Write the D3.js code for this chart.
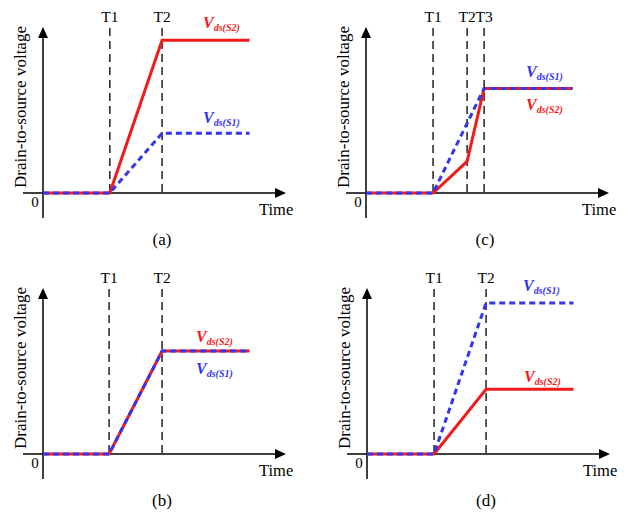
<!DOCTYPE html>
<html>
<head>
<meta charset="utf-8">
<script src="https://cdn.jsdelivr.net/npm/d3@7"></script>
<style>
  html, body { margin: 0; padding: 0; background: #fff; }
  svg { display: block; }
</style>
</head>
<body>
<svg id="chart" width="629" height="514" font-family="'Liberation Serif', 'Times New Roman', Times, serif"></svg>
<script>
// ---- data (time and voltage in arbitrary normalized units) ----
const panelNames = ["(a)", "(b)", "(c)", "(d)"];
const axisTitleY = "Drain-to-source voltage";
const axisTitleX = "Time";

// switching instants marked by dashed lines
const marksA = [{ name: "T1", t: 2.75 }, { name: "T2", t: 4.9 }];
const marksB = [{ name: "T1", t: 2.72 }, { name: "T2", t: 4.9 }];
const marksC = [{ name: "T1", t: 2.76 }, { name: "T2", t: 4.16 }, { name: "T3", t: 4.86 }];
const marksD = [{ name: "T1", t: 2.76 }, { name: "T2", t: 4.9 }];

// (a) S2 takes most of the voltage
const timeA = [0, 2.75, 4.9, 8.5];
const vS2_A = [0, 0, 9.2, 9.2];
const vS1_A = [0, 0, 3.6, 3.6];

// (b) balanced sharing
const timeB = [0, 2.72, 4.9, 8.5];
const vS2_B = [0, 0, 6.2, 6.2];
const vS1_B = [0, 0, 6.2, 6.2];

// (c) S2 rises slowly until T2, then catches up at T3
const timeC_S2 = [0, 2.76, 4.16, 4.86, 8.5];
const vS2_C = [0, 0, 1.9, 6.3, 6.3];
const timeC_S1 = [0, 2.76, 4.86, 8.5];
const vS1_C = [0, 0, 6.3, 6.3];

// (d) S1 takes most of the voltage
const timeD = [0, 2.76, 4.9, 8.5];
const vS2_D = [0, 0, 3.9, 3.9];
const vS1_D = [0, 0, 9.1, 9.1];

// ---- layout ----
const RED = "#f21a1a", BLUE = "#3535ee";
const FONT = "'Liberation Serif', 'Times New Roman', Times, serif";
const panels = [
  { name: panelNames[0], ox: 43,  oy: 193, marks: marksA,
    s2: { t: timeA, v: vS2_A }, s1: { t: timeA, v: vS1_A },
    lab2: { dx: 160, dy: -12 }, lab1: { dx: 160, dy: -10 } },
  { name: panelNames[1], ox: 43,  oy: 454, marks: marksB,
    s2: { t: timeB, v: vS2_B }, s1: { t: timeB, v: vS1_B },
    lab2: { dx: 153, dy: -9 }, lab1: { dx: 153, dy: 23 } },
  { name: panelNames[2], ox: 366, oy: 193, marks: marksC,
    s2: { t: timeC_S2, v: vS2_C }, s1: { t: timeC_S1, v: vS1_C },
    lab2: { dx: 160, dy: 22 }, lab1: { dx: 160, dy: -11 } },
  { name: panelNames[3], ox: 367, oy: 454, marks: marksD,
    s2: { t: timeD, v: vS2_D }, s1: { t: timeD, v: vS1_D },
    lab2: { dx: 157, dy: -7 }, lab1: { dx: 156, dy: -12 } }
];

const svg = d3.select("#chart");
const W = 243, H = 166;

function arrowHead(g, x, y, dir) {
  const L = 11, hw = 5;
  const pts = dir === "up"
    ? [[x, y], [x - hw, y + L], [x + hw, y + L]]
    : [[x, y], [x - L, y - hw], [x - L, y + hw]];
  g.append("path").attr("d", "M" + pts.join("L") + "Z").attr("fill", "#000");
}

function txt(g, x, y, size, s) {
  return g.append("text").attr("x", x).attr("y", y)
    .attr("font-family", FONT).attr("font-size", size).attr("fill", "#000").text(s);
}

function vLabel(g, x, y, sub, color) {
  const t = g.append("text").attr("x", x).attr("y", y)
    .attr("font-family", FONT)
    .attr("font-style", "italic").attr("font-weight", "bold")
    .attr("fill", color);
  t.append("tspan").attr("font-size", 16).text("V");
  t.append("tspan").attr("font-size", 10).attr("dy", 3).text(sub);
}

panels.forEach(p => {
  const g = svg.append("g");
  const x = d3.scaleLinear().domain([0, 10]).range([p.ox, p.ox + W]);
  const y = d3.scaleLinear().domain([0, 10]).range([p.oy, p.oy - H]);

  // axes
  g.append("line").attr("x1", p.ox - 20).attr("x2", x(10) - 8)
    .attr("y1", p.oy).attr("y2", p.oy).attr("stroke", "#000").attr("stroke-width", 1.5);
  g.append("line").attr("x1", p.ox).attr("x2", p.ox)
    .attr("y1", p.oy + 25).attr("y2", y(10) + 8).attr("stroke", "#000").attr("stroke-width", 1.5);
  arrowHead(g, x(10), p.oy, "right");
  arrowHead(g, p.ox, y(10), "up");

  // dashed time markers
  p.marks.forEach(m => {
    g.append("line").attr("x1", x(m.t)).attr("x2", x(m.t))
      .attr("y1", y(10) + 1).attr("y2", p.oy)
      .attr("stroke", "#222").attr("stroke-width", 1.5).attr("stroke-dasharray", "8,5");
    txt(g, x(m.t), p.oy - 171, 15.5, m.name).attr("text-anchor", "middle");
  });

  // voltage traces: S2 solid red beneath S1 dashed blue
  const line = d3.line().x(d => x(d[0])).y(d => y(d[1]));
  g.append("path").datum(d3.zip(p.s2.t, p.s2.v)).attr("d", line)
    .attr("fill", "none").attr("stroke", RED).attr("stroke-width", 3)
    .attr("stroke-linejoin", "miter");
  g.append("path").datum(d3.zip(p.s1.t, p.s1.v)).attr("d", line)
    .attr("fill", "none").attr("stroke", BLUE).attr("stroke-width", 3)
    .attr("stroke-dasharray", "6,4");

  // trace labels
  const v2 = p.s2.v[p.s2.v.length - 1], v1 = p.s1.v[p.s1.v.length - 1];
  vLabel(g, p.ox + p.lab2.dx, y(v2) + p.lab2.dy, "ds(S2)", RED);
  vLabel(g, p.ox + p.lab1.dx, y(v1) + p.lab1.dy, "ds(S1)", BLUE);

  // axis texts
  txt(g, p.ox - 8, p.oy + 14, 15, "0").attr("text-anchor", "middle");
  txt(g, p.ox + 216, p.oy + 22, 16.5, axisTitleX);
  txt(g, 0, 0, 17, axisTitleY)
    .attr("transform", `translate(${p.ox - 17},${p.oy - 86}) rotate(-90)`)
    .attr("text-anchor", "middle");
  txt(g, p.ox + 119, p.oy + 52, 17, p.name).attr("text-anchor", "middle");
});
</script>
</body>
</html>
